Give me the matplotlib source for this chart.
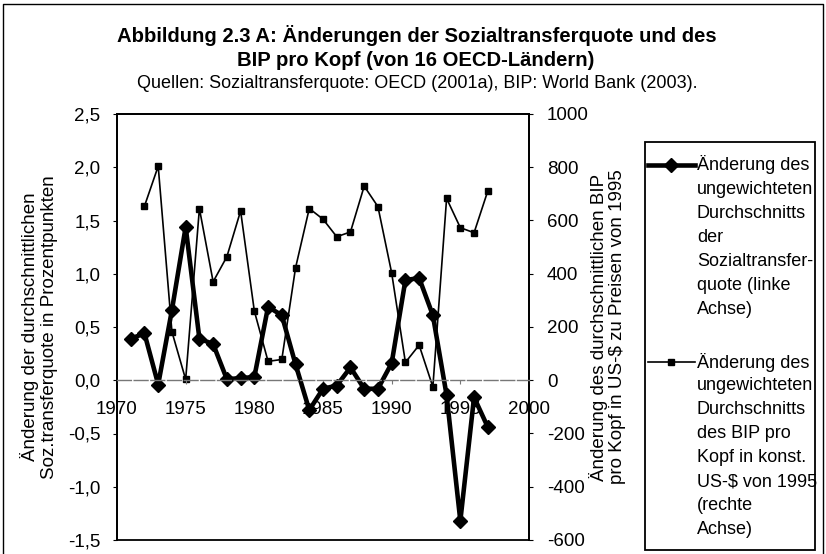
import matplotlib
matplotlib.use("Agg")
import matplotlib.pyplot as plt
from matplotlib.lines import Line2D
from matplotlib.patches import Rectangle

plt.rcParams['font.family'] = ['Liberation Sans', 'DejaVu Sans']

# data
years_soz = list(range(1971, 1998))
soz_change = [0.39, 0.44, -0.04, 0.66, 1.44, 0.39, 0.34, 0.01, 0.02, 0.03,
              0.69, 0.61, 0.15, -0.28, -0.08, -0.05, 0.12, -0.08, -0.08, 0.16,
              0.94, 0.96, 0.61, -0.14, -1.32, -0.16, -0.44]
years_bip = list(range(1972, 1998))
bip_change = [654, 804, 182, 3, 645, 370, 464, 636, 260, 71, 78, 422, 645,
              605, 539, 557, 729, 652, 403, 67, 132, -25, 683, 573, 554, 711]

x_ticks = [1970, 1975, 1980, 1985, 1990, 1995, 2000]
left_ticks = [2.5, 2.0, 1.5, 1.0, 0.5, 0.0, -0.5, -1.0, -1.5]
left_labels = ["2,5", "2,0", "1,5", "1,0", "0,5", "0,0", "-0,5", "-1,0", "-1,5"]
right_ticks = [1000, 800, 600, 400, 200, 0, -200, -400, -600]
right_labels = ["1000", "800", "600", "400", "200", "0", "-200", "-400", "-600"]

label_soz = ["Änderung des", "ungewichteten", "Durchschnitts", "der",
             "Sozialtransfer-", "quote (linke", "Achse)"]
label_bip = ["Änderung des", "ungewichteten", "Durchschnitts", "des BIP pro",
             "Kopf in konst.", "US-$ von 1995", "(rechte", "Achse)"]

W, H = 826, 554
fig = plt.figure(figsize=(W / 100, H / 100), dpi=100)

def fx(px):
    return px / W

def fy(py):
    return 1 - py / H

ax1 = fig.add_axes([fx(117), fy(540), fx(529) - fx(117), fy(114) - fy(540)])
ax2 = ax1.twinx()

# thin line: BIP (right axis)
ax2.plot(years_bip, bip_change, color='black', lw=1.2, marker='s', ms=3.8)
ax2.set_ylim(-600, 1000)
ax2.set_yticks(right_ticks)
ax2.set_yticklabels(right_labels)

# thick line: Sozialtransferquote (left axis)
ax1.plot(years_soz, soz_change, color='black', lw=3.3, marker='D', ms=7)
ax1.set_ylim(-1.5, 2.5)
ax1.set_yticks(left_ticks)
ax1.set_yticklabels(left_labels)
ax1.set_xlim(1970, 2000)
ax1.set_xticks(x_ticks)
ax1.set_xticklabels([str(y) for y in x_ticks])

ax1.set_zorder(ax2.get_zorder() + 1)
ax1.patch.set_visible(False)

# x axis sits on the zero line
ax1.spines['bottom'].set_position(('data', 0))
ax1.spines['bottom'].set_color('#777777')
ax1.spines['bottom'].set_linestyle((0, (10, 2)))
ax1.spines['bottom'].set_linewidth(1.0)
for s in ['left', 'top', 'right']:
    ax1.spines[s].set_linewidth(1.3)
for s in ax2.spines.values():
    s.set_linewidth(1.3)

ax1.tick_params(axis='x', direction='out', length=3, pad=12, labelsize=13.5,
                color='#777777')
ax1.tick_params(axis='y', direction='out', length=3, pad=9, labelsize=13.5)
ax2.tick_params(axis='y', direction='out', length=3, pad=10, labelsize=13.5)

# axis labels
fig.text(fx(30), fy(327), "Änderung der durchschnittlichen", rotation=90,
         ha='center', va='center', fontsize=13.5)
fig.text(fx(50), fy(327), "Soz.transferquote in Prozentpunkten", rotation=90,
         ha='center', va='center', fontsize=13.5)
fig.text(fx(598), fy(327), "Änderung des durchschnittlichen BIP", rotation=90,
         ha='center', va='center', fontsize=13.5)
fig.text(fx(618), fy(327), "pro Kopf in US-$ zu Preisen von 1995", rotation=90,
         ha='center', va='center', fontsize=13.5)

# titles
fig.text(fx(417), fy(36), "Abbildung 2.3 A: Änderungen der Sozialtransferquote und des",
         ha='center', va='center', fontsize=14.6, fontweight='bold')
fig.text(fx(416), fy(61), "BIP pro Kopf (von 16 OECD-Ländern)",
         ha='center', va='center', fontsize=14.6, fontweight='bold')
fig.text(fx(417), fy(84), "Quellen: Sozialtransferquote: OECD (2001a), BIP: World Bank (2003).",
         ha='center', va='center', fontsize=13)

# legend box drawn by hand so the key lines sit on the first text line
fig.patches.append(Rectangle((fx(645), fy(550)), fx(815) - fx(645), fy(142) - fy(550),
                             transform=fig.transFigure, fill=False,
                             edgecolor='black', lw=1.3))
step = 24
y0 = 165
fig.lines.append(Line2D([fx(648), fx(671), fx(695)], [fy(y0)] * 3, color='black',
                        lw=3.3, marker='D', ms=7, markevery=[1],
                        transform=fig.transFigure))
for i, t in enumerate(label_soz):
    fig.text(fx(697), fy(y0 + i * step), t, ha='left', va='center', fontsize=13)
y1 = 362
fig.lines.append(Line2D([fx(648), fx(671), fx(695)], [fy(y1)] * 3, color='black',
                        lw=1.2, marker='s', ms=3.8, markevery=[1],
                        transform=fig.transFigure))
for i, t in enumerate(label_bip):
    fig.text(fx(697), fy(y1 + i * step), t, ha='left', va='center', fontsize=13)

# outer chart frame
fig.lines.append(Line2D([fx(3), fx(3), fx(823), fx(823)],
                        [fy(556), fy(4), fy(4), fy(556)], color='black', lw=1.0,
                        transform=fig.transFigure))

plt.savefig("out.png", dpi=100)
